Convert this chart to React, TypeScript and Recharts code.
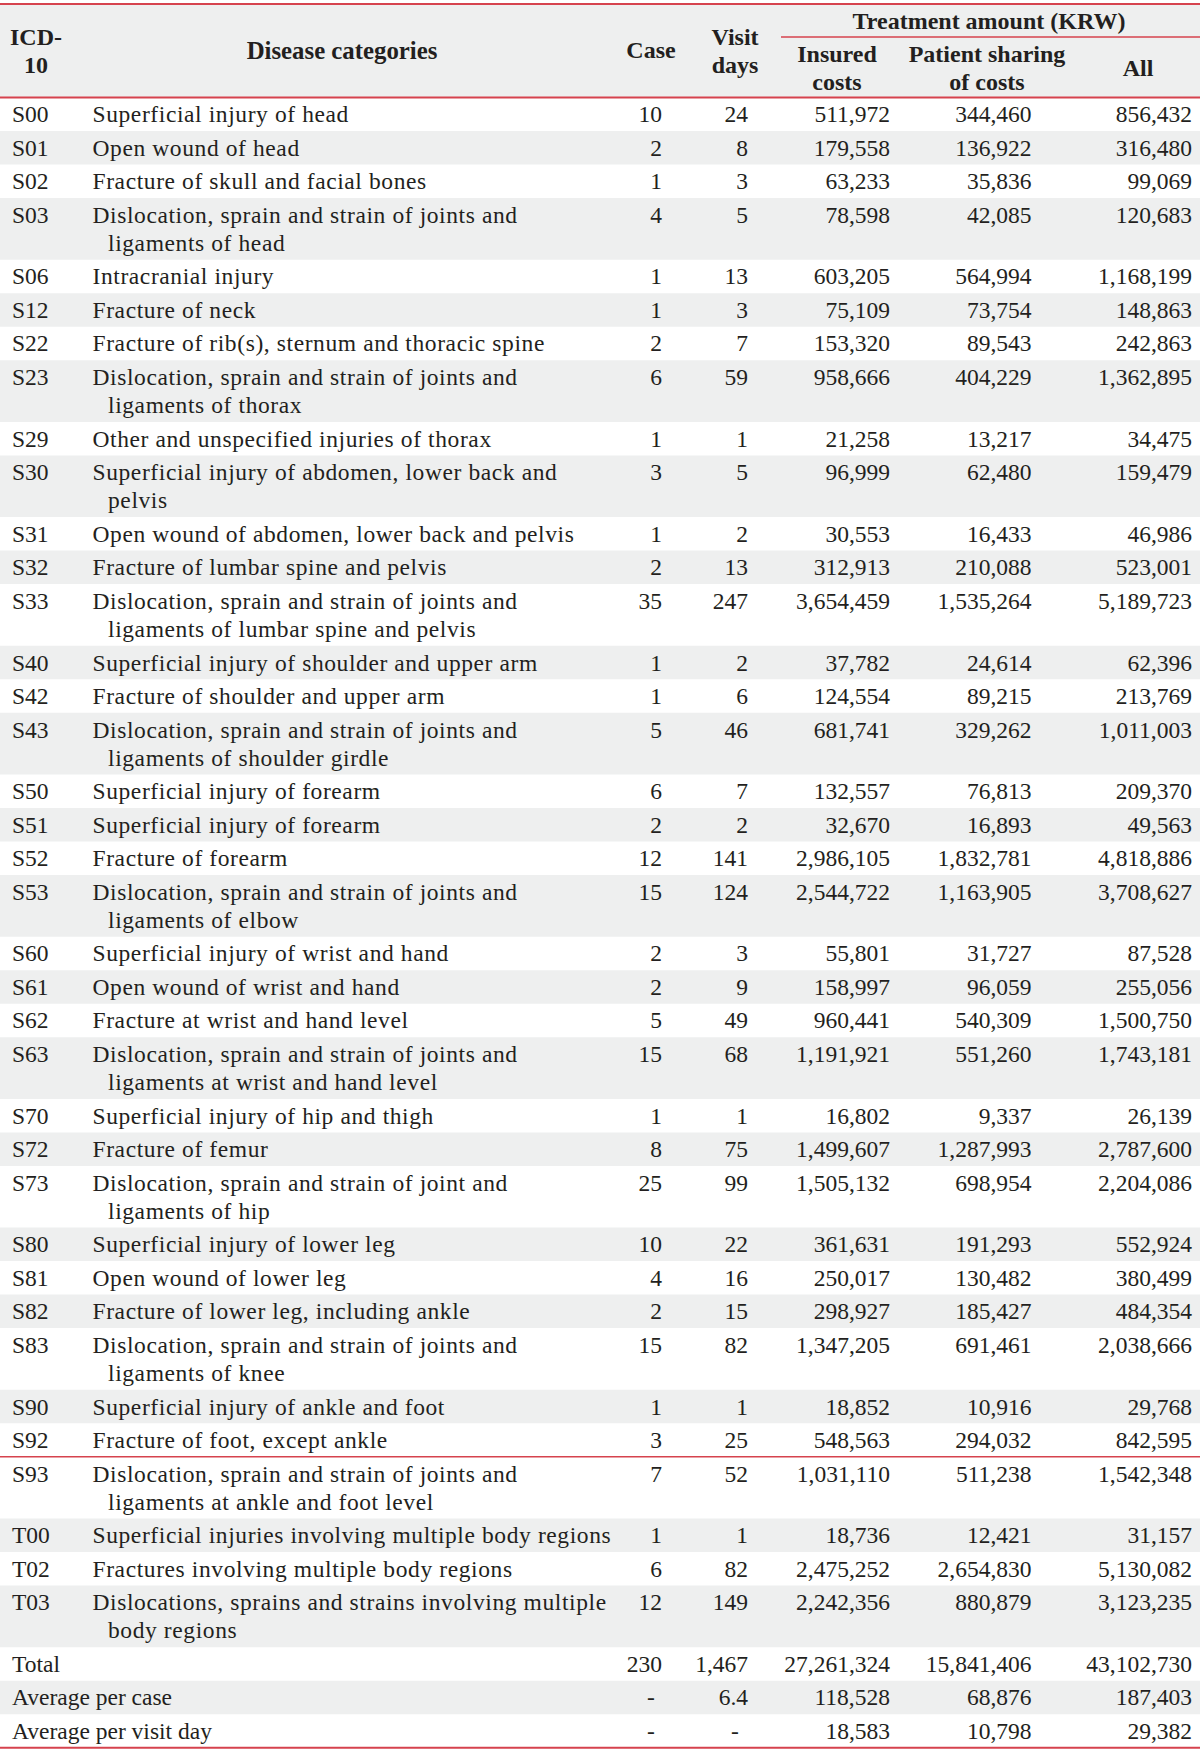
import React from 'react';
import { ComposedChart, XAxis, YAxis, Scatter, ReferenceArea, ReferenceLine } from 'recharts';

// ---------- data ----------
const codes = ['S00','S01','S02','S03','S06','S12','S22','S23','S29','S30','S31','S32','S33','S40','S42','S43','S50','S51','S52','S53','S60','S61','S62','S63','S70','S72','S73','S80','S81','S82','S83','S90','S92','S93','T00','T02','T03'];

const diseaseNames = [
  'Superficial injury of head',
  'Open wound of head',
  'Fracture of skull and facial bones',
  'Dislocation, sprain and strain of joints and\nligaments of head',
  'Intracranial injury',
  'Fracture of neck',
  'Fracture of rib(s), sternum and thoracic spine',
  'Dislocation, sprain and strain of joints and\nligaments of thorax',
  'Other and unspecified injuries of thorax',
  'Superficial injury of abdomen, lower back and\npelvis',
  'Open wound of abdomen, lower back and pelvis',
  'Fracture of lumbar spine and pelvis',
  'Dislocation, sprain and strain of joints and\nligaments of lumbar spine and pelvis',
  'Superficial injury of shoulder and upper arm',
  'Fracture of shoulder and upper arm',
  'Dislocation, sprain and strain of joints and\nligaments of shoulder girdle',
  'Superficial injury of forearm',
  'Superficial injury of forearm',
  'Fracture of forearm',
  'Dislocation, sprain and strain of joints and\nligaments of elbow',
  'Superficial injury of wrist and hand',
  'Open wound of wrist and hand',
  'Fracture at wrist and hand level',
  'Dislocation, sprain and strain of joints and\nligaments at wrist and hand level',
  'Superficial injury of hip and thigh',
  'Fracture of femur',
  'Dislocation, sprain and strain of joint and\nligaments of hip',
  'Superficial injury of lower leg',
  'Open wound of lower leg',
  'Fracture of lower leg, including ankle',
  'Dislocation, sprain and strain of joints and\nligaments of knee',
  'Superficial injury of ankle and foot',
  'Fracture of foot, except ankle',
  'Dislocation, sprain and strain of joints and\nligaments at ankle and foot level',
  'Superficial injuries involving multiple body regions',
  'Fractures involving multiple body regions',
  'Dislocations, sprains and strains involving multiple\nbody regions',
];

const caseCounts = [10,2,1,4,1,1,2,6,1,3,1,2,35,1,1,5,6,2,12,15,2,2,5,15,1,8,25,10,4,2,15,1,3,7,1,6,12];
const visitDays = [24,8,3,5,13,3,7,59,1,5,2,13,247,2,6,46,7,2,141,124,3,9,49,68,1,75,99,22,16,15,82,1,25,52,1,82,149];
const insuredCosts = [511972,179558,63233,78598,603205,75109,153320,958666,21258,96999,30553,312913,3654459,37782,124554,681741,132557,32670,2986105,2544722,55801,158997,960441,1191921,16802,1499607,1505132,361631,250017,298927,1347205,18852,548563,1031110,18736,2475252,2242356];
const patientCosts = [344460,136922,35836,42085,564994,73754,89543,404229,13217,62480,16433,210088,1535264,24614,89215,329262,76813,16893,1832781,1163905,31727,96059,540309,551260,9337,1287993,698954,191293,130482,185427,691461,10916,294032,511238,12421,2654830,880879];
const allCosts = [856432,316480,99069,120683,1168199,148863,242863,1362895,34475,159479,46986,523001,5189723,62396,213769,1011003,209370,49563,4818886,3708627,87528,255056,1500750,1743181,26139,2787600,2204086,552924,380499,484354,2038666,29768,842595,1542348,31157,5130082,3123235];

const summaryLabels = ['Total', 'Average per case', 'Average per visit day'];
const summaryCase: (number | null)[] = [230, null, null];
const summaryVisit: (number | null)[] = [1467, 6.4, null];
const summaryInsured = [27261324, 118528, 18583];
const summaryPatient = [15841406, 68876, 10798];
const summaryAll = [43102730, 187403, 29382];

const pageBreakCode = 'S93';

// ---------- layout / style ----------
const W = 1200;
const H = 1749;
const TOP_LINE = 4;
const HEADER_BOTTOM = 97.5;
const LINE_H = 28.2;
const ROW_PAD = 5.3;
const FIRST_LINE = 16.75;
const RED = '#d6434e';
const SHADE = '#eeefef';
const INK = '#231f20';
const BODY_FONT = '"Liberation Serif", "DejaVu Serif", serif';
const BODY_SIZE = 23.5;
const HEAD_SIZE = 24;

const COL = {
  code: 12,
  name: 92.5,
  nameIndent: 108,
  caseR: 662, caseC: 651,
  visitR: 748, visitC: 735,
  insuredR: 890, insuredC: 837,
  patientR: 1031.5, patientC: 987,
  allR: 1192, allC: 1138,
};

const fmt = (v: number | null) => (v === null ? '-' : v.toLocaleString('en-US'));

type Row = {
  label: string;
  name: string;
  vals: (number | null)[];
  lines: number;
  top: number;
  bottom: number;
  shaded: boolean;
  breakAbove: boolean;
};

function buildRows(): Row[] {
  const rows: Row[] = [];
  let y = HEADER_BOTTOM;
  let parityBase = 0;
  const push = (label: string, name: string, vals: (number | null)[], idx: number, breakAbove: boolean) => {
    if (breakAbove) parityBase = idx;
    const lines = name.split('\n').length;
    const h = lines * LINE_H + ROW_PAD;
    rows.push({ label, name, vals, lines, top: y, bottom: y + h, shaded: (idx - parityBase) % 2 === 1, breakAbove });
    y += h;
  };
  codes.forEach((c, i) => {
    push(c, diseaseNames[i], [caseCounts[i], visitDays[i], insuredCosts[i], patientCosts[i], allCosts[i]], i, c === pageBreakCode);
  });
  summaryLabels.forEach((s, j) => {
    push(s, '', [summaryCase[j], summaryVisit[j], summaryInsured[j], summaryPatient[j], summaryAll[j]], codes.length + j, false);
  });
  return rows;
}

const rows = buildRows();
const tableBottom = rows[rows.length - 1].bottom;

type Cell = { x: number; y: number; text: string; anchor: 'start' | 'middle' | 'end'; bold?: boolean; size?: number; ls?: number };

const rightCols = [
  [COL.caseR, COL.caseC],
  [COL.visitR, COL.visitC],
  [COL.insuredR, COL.insuredC],
  [COL.patientR, COL.patientC],
  [COL.allR, COL.allC],
];

const bodyCells: Cell[] = [];
rows.forEach((r) => {
  const cy = r.top + FIRST_LINE;
  bodyCells.push({ x: COL.code, y: cy, text: r.label, anchor: 'start' });
  r.name.split('\n').forEach((ln, k) => {
    if (ln) bodyCells.push({ x: k === 0 ? COL.name : COL.nameIndent, y: cy + k * LINE_H, text: ln, anchor: 'start', ls: 0.6 });
  });
  r.vals.forEach((v, k) => {
    const [xr, xc] = rightCols[k];
    if (v === null) bodyCells.push({ x: xc, y: cy, text: '-', anchor: 'middle' });
    else bodyCells.push({ x: xr, y: cy, text: fmt(v), anchor: 'end' });
  });
});

const headerCells: Cell[] = [
  { x: 36, y: 37, text: 'ICD-', anchor: 'middle', bold: true },
  { x: 36, y: 65, text: '10', anchor: 'middle', bold: true },
  { x: 342, y: 50, text: 'Disease categories', anchor: 'middle', bold: true, size: 24.8 },
  { x: COL.caseC, y: 50, text: 'Case', anchor: 'middle', bold: true },
  { x: COL.visitC, y: 37, text: 'Visit', anchor: 'middle', bold: true },
  { x: COL.visitC, y: 65, text: 'days', anchor: 'middle', bold: true },
  { x: 989, y: 20.5, text: 'Treatment amount (KRW)', anchor: 'middle', bold: true },
  { x: COL.insuredC, y: 53.5, text: 'Insured', anchor: 'middle', bold: true },
  { x: COL.insuredC, y: 81.5, text: 'costs', anchor: 'middle', bold: true },
  { x: COL.patientC, y: 53.5, text: 'Patient sharing', anchor: 'middle', bold: true },
  { x: COL.patientC, y: 81.5, text: 'of costs', anchor: 'middle', bold: true },
  { x: COL.allC, y: 68, text: 'All', anchor: 'middle', bold: true },
];

const CellText = (props: any) => {
  const { cx, cy, payload } = props;
  if (cx == null || cy == null) return null;
  const c: Cell = payload;
  return (
    <text
      x={cx}
      y={cy}
      textAnchor={c.anchor}
      dominantBaseline="central"
      fontFamily={BODY_FONT}
      fontSize={c.size ?? (c.bold ? HEAD_SIZE : BODY_SIZE)}
      fontWeight={c.bold ? 700 : 400}
      letterSpacing={c.ls ?? 0}
      fill={INK}
    >
      {c.text}
    </text>
  );
};

export default function App() {
  return (
    <div style={{ position: 'absolute', left: 0, top: 0, width: W, height: H, background: '#fff' }}>
      <ComposedChart width={W} height={H} margin={{ top: 0, right: 0, bottom: 0, left: 0 }}>
        <XAxis type="number" dataKey="x" domain={[0, W]} hide allowDataOverflow />
        <YAxis type="number" dataKey="y" domain={[0, H]} reversed hide allowDataOverflow />
        <ReferenceArea x1={0} x2={W} y1={TOP_LINE} y2={HEADER_BOTTOM} fill={SHADE} fillOpacity={1} stroke="none" ifOverflow="visible" />
        {rows.map((r, i) =>
          r.shaded ? (
            <ReferenceArea key={'sh' + i} x1={0} x2={W} y1={r.top} y2={r.bottom} fill={SHADE} fillOpacity={1} stroke="none" ifOverflow="visible" />
          ) : null
        )}
        <ReferenceLine y={TOP_LINE} stroke={RED} strokeWidth={2} ifOverflow="visible" />
        <ReferenceLine y={HEADER_BOTTOM} stroke={RED} strokeWidth={2} ifOverflow="visible" />
        <ReferenceLine segment={[{ x: 781, y: 37 }, { x: W, y: 37 }]} stroke={RED} strokeWidth={1.5} ifOverflow="visible" />
        {rows.map((r, i) =>
          r.breakAbove ? <ReferenceLine key={'br' + i} y={r.top} stroke={RED} strokeWidth={1.5} ifOverflow="visible" /> : null
        )}
        <ReferenceLine y={tableBottom} stroke={RED} strokeWidth={2} ifOverflow="visible" />
        <Scatter data={headerCells} shape={CellText} isAnimationActive={false} />
        <Scatter data={bodyCells} shape={CellText} isAnimationActive={false} />
      </ComposedChart>
    </div>
  );
}
